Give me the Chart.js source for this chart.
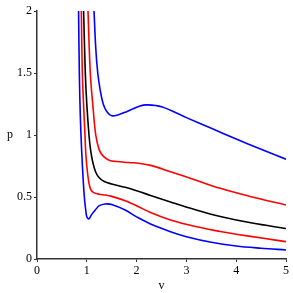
<!DOCTYPE html>
<html>
<head>
<meta charset="utf-8">
<script src="https://cdn.jsdelivr.net/npm/chart.js@4/dist/chart.umd.min.js"></script>
<style>
  html, body { margin: 0; padding: 0; background: #fff; }
  canvas { display: block; }
</style>
</head>
<body>
<canvas id="vdw" width="293" height="293"></canvas>
<script>
// isotherms, bottom to top
const v1 = [0.835, 0.85, 0.87, 0.896, 0.93, 0.956, 0.98, 1.0, 1.04, 1.1, 1.17, 1.25, 1.37, 1.5, 1.77, 2.0, 2.28, 2.68, 3.0, 3.5, 4.0, 4.5, 5.0];
const p1 = [2.0, 1.5, 1.15, 0.88, 0.62, 0.476, 0.39, 0.34, 0.323, 0.36, 0.395, 0.43, 0.444, 0.44, 0.395, 0.34, 0.282, 0.22, 0.18, 0.135, 0.105, 0.087, 0.073];

const v2 = [0.89, 0.91, 0.94, 0.964, 0.976, 1.0, 1.04, 1.08, 1.14, 1.25, 1.37, 1.5, 1.77, 2.0, 2.28, 2.68, 3.18, 3.68, 4.0, 4.58, 5.0];
const p2 = [2.0, 1.5, 1.2, 1.0, 0.879, 0.75, 0.62, 0.56, 0.535, 0.522, 0.516, 0.505, 0.47, 0.43, 0.375, 0.315, 0.262, 0.222, 0.2, 0.165, 0.14];

const v3 = [0.936, 0.97, 1.0, 1.044, 1.076, 1.12, 1.18, 1.25, 1.35, 1.5, 1.77, 2.0, 2.28, 2.68, 3.18, 3.68, 4.32, 5.0];
const p3 = [2.0, 1.5, 1.25, 1.0, 0.88, 0.78, 0.7, 0.655, 0.625, 0.605, 0.578, 0.55, 0.513, 0.46, 0.397, 0.343, 0.29, 0.246];

const v4 = [1.024, 1.07, 1.13, 1.18, 1.25, 1.33, 1.45, 1.6, 1.84, 2.07, 2.28, 2.68, 3.18, 3.68, 4.32, 5.0];
const p4 = [2.0, 1.5, 1.2, 1.0, 0.88, 0.83, 0.797, 0.786, 0.778, 0.77, 0.755, 0.704, 0.637, 0.57, 0.5, 0.435];

const v5 = [1.145, 1.18, 1.22, 1.27, 1.33, 1.4, 1.5, 1.65, 1.81, 2.07, 2.2, 2.5, 3.0, 3.5, 4.0, 4.5, 5.0];
const p5 = [2.0, 1.7, 1.5, 1.36, 1.25, 1.19, 1.155, 1.165, 1.19, 1.234, 1.243, 1.228, 1.14, 1.054, 0.968, 0.885, 0.805];

const xTicks = [0, 1, 2, 3, 4, 5];
const yTicks = [0, 0.5, 1, 1.5, 2];

const curves = [
  [v1, p1, '#0000ff'],
  [v2, p2, '#ff0000'],
  [v3, p3, '#000000'],
  [v4, p4, '#ff0000'],
  [v5, p5, '#0000ff'],
];

const serif = { family: '"Liberation Serif", "DejaVu Serif", serif', size: 12 };

const datasets = curves.map(([vs, ps, col]) => ({
  data: vs.map((v, i) => ({ x: v, y: ps[i] })),
  borderColor: col,
  borderWidth: 1.6,
  pointRadius: 0,
  showLine: true,
  fill: false,
  tension: 0.35,
}));

// upright "p" beside the y axis
const pLabel = {
  id: 'pLabel',
  afterDraw(chart) {
    const { ctx, chartArea } = chart;
    ctx.save();
    ctx.font = '12px "Liberation Serif", serif';
    ctx.fillStyle = '#000';
    ctx.textAlign = 'center';
    ctx.textBaseline = 'middle';
    ctx.fillText('p', 10, (chartArea.top + chartArea.bottom) / 2);
    ctx.restore();
  }
};

new Chart(document.getElementById('vdw'), {
  type: 'scatter',
  data: { datasets },
  plugins: [pLabel],
  options: {
    responsive: false,
    animation: false,
    layout: { padding: { top: 11, right: 7, left: 0, bottom: 0 } },
    plugins: { legend: { display: false }, tooltip: { enabled: false } },
    scales: {
      x: {
        min: 0, max: 5,
        afterBuildTicks: (s) => { s.ticks = xTicks.map(v => ({ value: v })); },
        afterFit: (s) => { s.height = 34; },
        grid: { drawOnChartArea: false, tickLength: 3, color: '#333' },
        border: { color: '#333', width: 1.5 },
        ticks: { color: '#000', font: serif, padding: 2, callback: (v) => String(v) },
        title: { display: true, text: 'v', color: '#000', font: serif, padding: 0 },
      },
      y: {
        min: 0, max: 2,
        afterBuildTicks: (s) => { s.ticks = yTicks.map(v => ({ value: v })); },
        afterFit: (s) => { s.width = 37; },
        grid: { drawOnChartArea: false, tickLength: 3, color: '#333' },
        border: { color: '#333', width: 1.5 },
        ticks: { color: '#000', font: serif, padding: 2, callback: (v) => String(v) },
      },
    },
  },
});
</script>
</body>
</html>
